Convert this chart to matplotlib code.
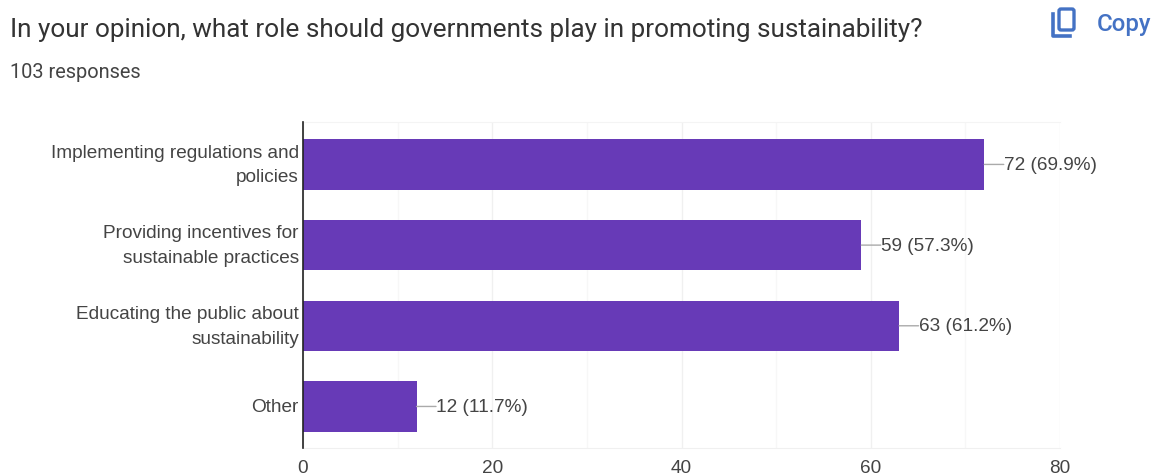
import matplotlib
matplotlib.use("Agg")
import matplotlib.pyplot as plt
from matplotlib.patches import FancyBboxPatch

categories = [
    "Implementing regulations and\npolicies",
    "Providing incentives for\nsustainable practices",
    "Educating the public about\nsustainability",
    "Other",
]
counts = [72, 59, 63, 12]
percents = [69.9, 57.3, 61.2, 11.7]
x_ticks = [0, 20, 40, 60, 80]
minor_ticks = [10, 30, 50, 70]

W, H = 1156, 477
BAR_COLOR = "#673ab7"
TEXT_COLOR = "#444444"
BLUE = "#4472c4"
LABEL_SIZE = 13.7

fig = plt.figure(figsize=(W / 100, H / 100), dpi=100)

# chart area, positions in pixels from the top left
left, right, top, bottom = 303, 1060, 123, 449
ax = fig.add_axes([left / W, 1 - bottom / H, (right - left) / W, (bottom - top) / H])

y = list(range(len(categories)))
ax.barh(y, counts, height=0.626, color=BAR_COLOR, zorder=3)
ax.set_xlim(0, 80)
ax.set_ylim(3.515, -0.526)

ax.set_xticks(x_ticks)
ax.set_xticks(minor_ticks, minor=True)
ax.grid(True, axis="x", which="major", color="#f0f0f0", lw=1, zorder=0)
ax.grid(True, axis="x", which="minor", color="#f7f7f7", lw=1, zorder=0)
ax.set_yticks(y)
ax.set_yticklabels(categories, fontfamily="Liberation Sans", fontsize=LABEL_SIZE,
                   color=TEXT_COLOR, linespacing=1.6, va="center")
ax.tick_params(axis="y", length=0, pad=3)
ax.tick_params(axis="x", which="both", length=0, pad=8, labelsize=LABEL_SIZE, labelcolor=TEXT_COLOR)
for lab in ax.get_xticklabels():
    lab.set_fontfamily("Liberation Sans")

ax.spines["right"].set_visible(False)
ax.spines["top"].set_color("#f4f4f4")
ax.spines["bottom"].set_color("#f0f0f0")
ax.spines["left"].set_color("#222222")
ax.spines["left"].set_linewidth(1.2)
ax.spines["left"].set_zorder(4)

# value labels with a short leader line
for i, (c, p) in enumerate(zip(counts, percents)):
    ax.annotate(f"{c} ({p}%)", xy=(c, i), xytext=(14, 0), textcoords="offset points",
                va="center", ha="left", fontfamily="Liberation Sans", fontsize=LABEL_SIZE,
                color=TEXT_COLOR, zorder=5, annotation_clip=False,
                arrowprops=dict(arrowstyle="-", color="#aaaaaa", lw=1, shrinkA=0, shrinkB=0,
                                relpos=(0, 0.5), patchA=None))

# header, drawn on an overlay in pixel coordinates
top_ax = fig.add_axes([0, 0, 1, 1], facecolor="none")
top_ax.set_xlim(0, W)
top_ax.set_ylim(H, 0)
top_ax.axis("off")
top_ax.text(10, 30, "In your opinion, what role should governments play in promoting sustainability?",
            fontfamily="Roboto", fontsize=18.85, color="#333333", va="center", ha="left")
top_ax.text(10, 72, "103 responses", fontfamily="Roboto", fontsize=14.4, color="#444444",
            va="center", ha="left")
top_ax.text(1097, 24, "Copy", fontfamily="Roboto", fontsize=17.3, color=BLUE,
            va="center", ha="left", fontweight="medium")

# copy icon
top_ax.add_patch(FancyBboxPatch((1059, 10), 15, 21, boxstyle="round,pad=0,rounding_size=2",
                                fill=False, edgecolor=BLUE, lw=2.4))
top_ax.plot([1052.5, 1052.5, 1070], [15, 37, 37], color=BLUE, lw=2.6, solid_joinstyle="round")

fig.savefig("out.png", dpi=100, facecolor="white")
